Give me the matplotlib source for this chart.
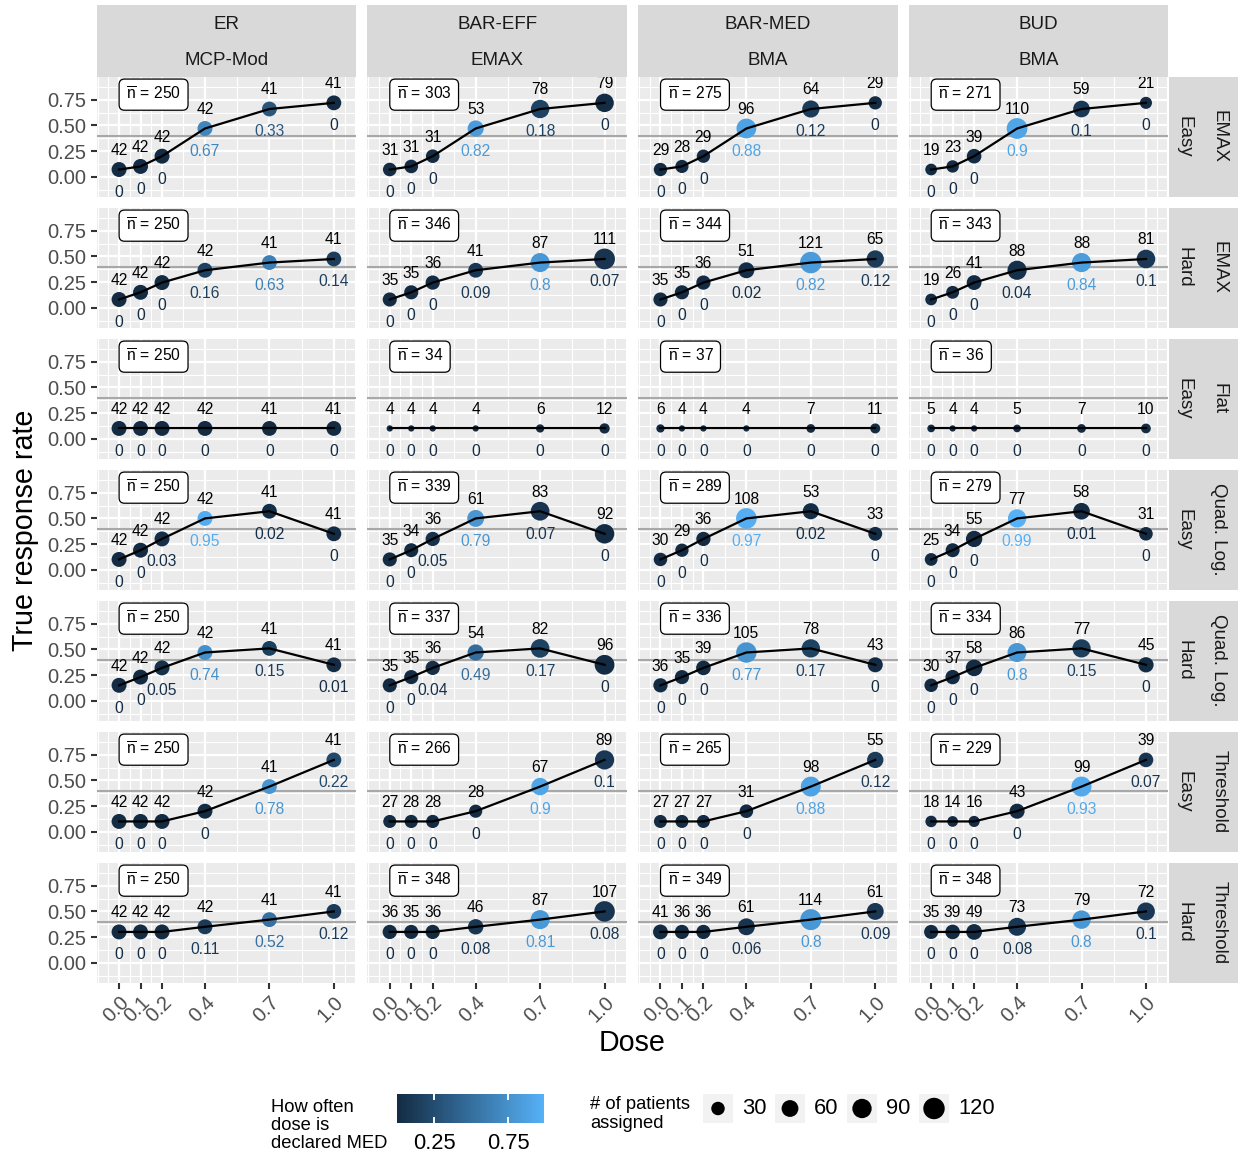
import numpy as np
import matplotlib
matplotlib.use("Agg")
import matplotlib.pyplot as plt
from matplotlib.colors import LinearSegmentedColormap, Normalize
from matplotlib.cm import ScalarMappable
from matplotlib.patches import Rectangle

plt.rcParams['font.family'] = ['Liberation Sans', 'DejaVu Sans']
plt.rcParams['mathtext.fontset'] = 'custom'
plt.rcParams['mathtext.rm'] = 'Liberation Sans'
plt.rcParams['mathtext.it'] = 'Liberation Sans:italic'
plt.rcParams['mathtext.bf'] = 'Liberation Sans:bold'

# ---- data ----
doses = [0.0, 0.1, 0.2, 0.4, 0.7, 1.0]
designs = ["ER", "BAR-EFF", "BAR-MED", "BUD"]
analyses = ["MCP-Mod", "EMAX", "BMA", "BMA"]
scenarios = ["EMAX", "EMAX", "Flat", "Quad. Log.", "Quad. Log.", "Threshold", "Threshold"]
difficulty = ["Easy", "Hard", "Easy", "Easy", "Hard", "Easy", "Hard"]
med_threshold = 0.4

# true response rate per scenario row
true_emax_easy = [0.07, 0.10, 0.20, 0.47, 0.66, 0.72]
true_emax_hard = [0.08, 0.15, 0.245, 0.365, 0.44, 0.475]
true_flat = [0.10, 0.10, 0.10, 0.10, 0.10, 0.10]
true_quad_easy = [0.10, 0.19, 0.30, 0.50, 0.57, 0.35]
true_quad_hard = [0.15, 0.23, 0.32, 0.47, 0.51, 0.35]
true_thr_easy = [0.10, 0.10, 0.10, 0.20, 0.44, 0.70]
true_thr_hard = [0.30, 0.30, 0.30, 0.35, 0.42, 0.50]

# patients assigned per dose (ER, BAR-EFF, BAR-MED, BUD)
n_emax_easy = [[42, 42, 42, 42, 41, 41], [31, 31, 31, 53, 78, 79],
               [29, 28, 29, 96, 64, 29], [19, 23, 39, 110, 59, 21]]
n_emax_hard = [[42, 42, 42, 42, 41, 41], [35, 35, 36, 41, 87, 111],
               [35, 35, 36, 51, 121, 65], [19, 26, 41, 88, 88, 81]]
n_flat = [[42, 42, 42, 42, 41, 41], [4, 4, 4, 4, 6, 12],
          [6, 4, 4, 4, 7, 11], [5, 4, 4, 5, 7, 10]]
n_quad_easy = [[42, 42, 42, 42, 41, 41], [35, 34, 36, 61, 83, 92],
               [30, 29, 36, 108, 53, 33], [25, 34, 55, 77, 58, 31]]
n_quad_hard = [[42, 42, 42, 42, 41, 41], [35, 35, 36, 54, 82, 96],
               [36, 35, 39, 105, 78, 43], [30, 37, 58, 86, 77, 45]]
n_thr_easy = [[42, 42, 42, 42, 41, 41], [27, 28, 28, 28, 67, 89],
              [27, 27, 27, 31, 98, 55], [18, 14, 16, 43, 99, 39]]
n_thr_hard = [[42, 42, 42, 42, 41, 41], [36, 35, 36, 46, 87, 107],
              [41, 36, 36, 61, 114, 61], [35, 39, 49, 73, 79, 72]]

# how often each dose is declared MED
p_emax_easy = [[0, 0, 0, 0.67, 0.33, 0], [0, 0, 0, 0.82, 0.18, 0],
               [0, 0, 0, 0.88, 0.12, 0], [0, 0, 0, 0.9, 0.1, 0]]
p_emax_hard = [[0, 0, 0, 0.16, 0.63, 0.14], [0, 0, 0, 0.09, 0.8, 0.07],
               [0, 0, 0, 0.02, 0.82, 0.12], [0, 0, 0, 0.04, 0.84, 0.1]]
p_flat = [[0, 0, 0, 0, 0, 0], [0, 0, 0, 0, 0, 0],
          [0, 0, 0, 0, 0, 0], [0, 0, 0, 0, 0, 0]]
p_quad_easy = [[0, 0, 0.03, 0.95, 0.02, 0], [0, 0, 0.05, 0.79, 0.07, 0],
               [0, 0, 0, 0.97, 0.02, 0], [0, 0, 0, 0.99, 0.01, 0]]
p_quad_hard = [[0, 0, 0.05, 0.74, 0.15, 0.01], [0, 0, 0.04, 0.49, 0.17, 0],
               [0, 0, 0, 0.77, 0.17, 0], [0, 0, 0, 0.8, 0.15, 0]]
p_thr_easy = [[0, 0, 0, 0, 0.78, 0.22], [0, 0, 0, 0, 0.9, 0.1],
              [0, 0, 0, 0, 0.88, 0.12], [0, 0, 0, 0, 0.93, 0.07]]
p_thr_hard = [[0, 0, 0, 0.11, 0.52, 0.12], [0, 0, 0, 0.08, 0.81, 0.08],
              [0, 0, 0, 0.06, 0.8, 0.09], [0, 0, 0, 0.08, 0.8, 0.1]]

# mean total sample size per panel
nbar_emax_easy = [250, 303, 275, 271]
nbar_emax_hard = [250, 346, 344, 343]
nbar_flat = [250, 34, 37, 36]
nbar_quad_easy = [250, 339, 289, 279]
nbar_quad_hard = [250, 337, 336, 334]
nbar_thr_easy = [250, 266, 265, 229]
nbar_thr_hard = [250, 348, 349, 348]

size_breaks = [30, 60, 90, 120]
color_breaks = [0.25, 0.75]

true_rows = [true_emax_easy, true_emax_hard, true_flat, true_quad_easy,
             true_quad_hard, true_thr_easy, true_thr_hard]
n_rows = [n_emax_easy, n_emax_hard, n_flat, n_quad_easy, n_quad_hard,
          n_thr_easy, n_thr_hard]
p_rows = [p_emax_easy, p_emax_hard, p_flat, p_quad_easy, p_quad_hard,
          p_thr_easy, p_thr_hard]
nbar_rows = [nbar_emax_easy, nbar_emax_hard, nbar_flat, nbar_quad_easy,
             nbar_quad_hard, nbar_thr_easy, nbar_thr_hard]

# ---- scales ----
DPI = 150
W, H = 1238, 1154
all_n = np.concatenate([np.ravel(x) for x in n_rows])
n_min, n_max = all_n.min(), all_n.max()
all_p = np.concatenate([np.ravel(x) for x in p_rows])

cmap = LinearSegmentedColormap.from_list('med', ['#132B43', '#56B1F7'])
norm = Normalize(vmin=all_p.min(), vmax=all_p.max())


def marker_area(n):
    # area scale like ggplot's scale_size (sqrt rescale to a diameter range)
    frac = np.sqrt((np.asarray(n, dtype=float) - n_min) / (n_max - n_min))
    d_px = 6.3 + 15.2 * frac
    return (d_px * 72 / DPI) ** 2


def frac_label(v):
    return f"{v:g}"


# ---- layout (pixels) ----
col_left = [96.5, 367.2, 637.9, 908.6]
PW = 259.9
row_top = [76.7 + i * 131.0 for i in range(7)]
PH = 120.0
XLIM = (-0.105, 1.105)
YLIM = (-0.195, 0.975)


def rect(x, y, w, h):
    return [x / W, 1 - (y + h) / H, w / W, h / H]


fig = plt.figure(figsize=(W / DPI, H / DPI), dpi=DPI)

x_minor = [-0.1, -0.05, 0.05, 0.15, 0.3, 0.55, 0.85, 1.05, 1.1]
y_major = [0.0, 0.25, 0.5, 0.75]
y_minor = [-0.125, 0.125, 0.375, 0.625, 0.875]

for r in range(7):
    for c in range(4):
        ax = fig.add_axes(rect(col_left[c], row_top[r], PW, PH))
        ax.set_facecolor('#EBEBEB')
        ax.set_xlim(*XLIM)
        ax.set_ylim(*YLIM)
        for s in ax.spines.values():
            s.set_visible(False)
        ax.set_xticks(doses)
        ax.set_xticks(x_minor, minor=True)
        ax.set_yticks(y_major)
        ax.set_yticks(y_minor, minor=True)
        ax.grid(which='major', color='white', lw=1.07)
        ax.grid(which='minor', color='white', lw=0.53)
        ax.set_axisbelow(True)
        ax.tick_params(which='minor', length=0)
        ax.tick_params(which='major', length=2.75, width=1.0,
                       color='#333333', labelcolor='#4D4D4D', labelsize=9.7,
                       pad=2.2)
        if c == 0:
            ax.set_yticklabels([f"{v:.2f}" for v in y_major])
        else:
            ax.tick_params(axis='y', length=0, labelleft=False)
        if r == 6:
            ax.set_xticklabels([f"{d:.1f}" for d in doses], rotation=45,
                               ha='right', va='top', rotation_mode='anchor')
        else:
            ax.tick_params(axis='x', length=0, labelbottom=False)

        ax.axhline(med_threshold, color='#A8A8A8', lw=1.0, zorder=1)
        yv = true_rows[r]
        nv = n_rows[r][c]
        pv = p_rows[r][c]
        ax.scatter(doses, yv, s=marker_area(nv), c=pv, cmap=cmap, norm=norm,
                   linewidths=0, zorder=3)
        ax.plot(doses, yv, color='black', lw=1.07, zorder=4)
        for d, y, n, p in zip(doses, yv, nv, pv):
            ax.text(d, y + 0.142, str(n), ha='center', va='baseline',
                    fontsize=7.5, color='black', zorder=5)
            ax.text(d, y - 0.268, frac_label(p), ha='center', va='baseline',
                    fontsize=7.5, color=cmap(norm(p)), zorder=5)
        ax.annotate(r"$\overline{\mathrm{n}}\,=\,%d$" % nbar_rows[r][c],
                    xy=(0, 0.80), xytext=(3.4, 0), textcoords='offset points',
                    ha='left', va='center', fontsize=7.5, zorder=6,
                    bbox=dict(boxstyle='round,pad=0.45,rounding_size=0.35',
                              fc='white', ec='black', lw=0.6))

# top strips
for c in range(4):
    for lab, y0 in [(designs[c], 5.0), (analyses[c], 40.85)]:
        sax = fig.add_axes(rect(col_left[c], y0, PW, 35.85))
        sax.set_facecolor('#D9D9D9')
        sax.set_xticks([])
        sax.set_yticks([])
        for s in sax.spines.values():
            s.set_visible(False)
        sax.text(0.5, 0.5, lab, ha='center', va='center_baseline', fontsize=9,
                 color='#1A1A1A', transform=sax.transAxes)

# right strips
for r in range(7):
    for lab, x0 in [(difficulty[r], 1168.5), (scenarios[r], 1203.3)]:
        sax = fig.add_axes(rect(x0, row_top[r], 34.8, PH))
        sax.set_facecolor('#D9D9D9')
        sax.set_xticks([])
        sax.set_yticks([])
        for s in sax.spines.values():
            s.set_visible(False)
        sax.text(0.5, 0.5, lab, ha='center', va='center_baseline', fontsize=9,
                 rotation=270, rotation_mode='anchor', color='#1A1A1A',
                 transform=sax.transAxes)

fig.text(25 / W, 1 - 530 / H, 'True response rate', rotation=90,
         ha='center', va='center', fontsize=13.75)
fig.text(632.5 / W, 1 - 1043 / H, 'Dose', ha='center', va='center',
         fontsize=13.75)

# ---- legends ----
lax = fig.add_axes([0, 0, 1, 1])
lax.set_xlim(0, W)
lax.set_ylim(H, 0)
lax.axis('off')

lax.text(271, 1098.5, 'How often\ndose is\ndeclared MED', ha='left', va='top',
         fontsize=8.8, linespacing=1.1)
cax = fig.add_axes(rect(397, 1094, 147, 29))
cb = fig.colorbar(ScalarMappable(norm=norm, cmap=cmap), cax=cax,
                  orientation='horizontal')
cb.outline.set_visible(False)
cb.set_ticks(color_breaks)
cb.set_ticklabels([f"{v:.2f}" for v in color_breaks])
cax.tick_params(axis='x', direction='in', length=2.75, width=0.9,
                color='white', labelcolor='black', labelsize=10.5, pad=5,
                top=True, bottom=True)

lax.text(590, 1114, '# of patients\nassigned', ha='left', va='center',
         fontsize=8.8, linespacing=1.1)
key_x = [703 + i * 72 for i in range(len(size_breaks))]
for kx, v in zip(key_x, size_breaks):
    lax.add_patch(Rectangle((kx, 1094), 30, 29, fc='#F2F2F2', ec='none'))
lax.scatter([kx + 15 for kx in key_x], [1108.5] * len(size_breaks),
            s=marker_area(size_breaks), color='black', linewidths=0)
for kx, v in zip(key_x, size_breaks):
    lax.text(kx + 39, 1109, str(v), ha='left', va='center', fontsize=10.5)

fig.savefig('out.png', dpi=DPI)
